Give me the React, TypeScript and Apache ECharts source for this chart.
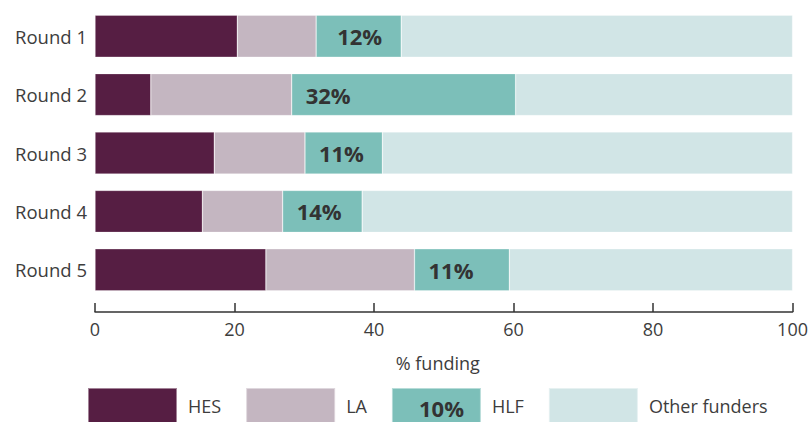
import React, { useEffect, useRef } from "react";
import * as echarts from "echarts";

const categories = ["Round 1", "Round 2", "Round 3", "Round 4", "Round 5"];
const hes = [20.4, 8.0, 17.1, 15.4, 24.5];
const la = [11.3, 20.2, 13.0, 11.5, 21.3];
const hlf = [12.2, 32.1, 11.1, 11.4, 13.6];
const other = [56.1, 39.7, 58.8, 61.7, 40.6];
const hlfLabels = ["12%", "32%", "11%", "14%", "11%"];
const xTicks = [0, 20, 40, 60, 80, 100];
const legendNote = "10%";

const FONT = "'Open Sans', 'Noto Sans', sans-serif";
const TEXT = "#3d3d3d";
const COLORS = ["#561e43", "#c4b6c1", "#7cbfb9", "#d1e5e6"];

export default function App() {
  const ref = useRef<HTMLDivElement>(null);
  useEffect(() => {
    if (!ref.current) return;
    const chart = echarts.init(ref.current, null, { renderer: "svg" });
    const barBase = {
      type: "bar",
      stack: "total",
      barWidth: 42,
      itemStyle: { borderColor: "rgba(255,255,255,0.45)", borderWidth: 0.6 },
      emphasis: { disabled: true },
    };
    chart.setOption({
      animation: false,
      textStyle: { fontFamily: FONT },
      grid: { left: 95, right: 18, top: 7, bottom: 123, containLabel: false },
      xAxis: {
        type: "value",
        min: xTicks[0],
        max: xTicks[xTicks.length - 1],
        interval: 20,
        offset: 13,
        name: "% funding",
        nameLocation: "middle",
        nameGap: 42,
        nameTextStyle: { fontSize: 18, color: TEXT, fontFamily: FONT, padding: [0, 12, 0, 0] },
        axisLine: { show: true, lineStyle: { color: "#333", width: 1.5 } },
        axisTick: { show: true, inside: true, length: 9, lineStyle: { color: "#333", width: 1.5 } },
        axisLabel: { fontSize: 18, color: TEXT, fontFamily: FONT, margin: 8 },
        splitLine: { show: false },
      },
      yAxis: {
        type: "category",
        data: categories,
        inverse: true,
        axisLine: { show: false },
        axisTick: { show: false },
        axisLabel: { fontSize: 18.5, color: TEXT, fontFamily: FONT, margin: 8 },
      },
      legend: {
        left: 87,
        top: 387,
        padding: 0,
        icon: "rect",
        itemWidth: 89,
        itemHeight: 36,
        itemGap: 24,
        textStyle: { fontSize: 18, color: TEXT, fontFamily: FONT, padding: [18, 0, 0, 6] },
        selectedMode: false,
        data: ["HES", "LA", "HLF", "Other funders"],
      },
      graphic: [
        {
          type: "text",
          left: 419,
          top: 397,
          z: 100,
          silent: true,
          style: { text: legendNote, font: `bold 22px ${FONT}`, fill: "#333" },
        },
      ],
      series: [
        { ...barBase, name: "HES", data: hes, itemStyle: { ...barBase.itemStyle, color: COLORS[0] } },
        { ...barBase, name: "LA", data: la, itemStyle: { ...barBase.itemStyle, color: COLORS[1] } },
        {
          ...barBase,
          name: "HLF",
          data: hlf.map((v, i) => ({
            value: v,
            label: { distance: i === 0 ? 21 : 14 },
          })),
          itemStyle: { ...barBase.itemStyle, color: COLORS[2] },
          label: {
            show: true,
            position: "insideLeft",
            distance: 14,
            formatter: (p: any) => hlfLabels[p.dataIndex],
            fontSize: 22,
            fontWeight: "bold",
            color: "#333",
            fontFamily: FONT,
          },
        },
        { ...barBase, name: "Other funders", data: other, itemStyle: { ...barBase.itemStyle, color: COLORS[3] } },
      ],
    });
    return () => chart.dispose();
  }, []);
  return (
    <div
      ref={ref}
      style={{ position: "fixed", left: 0, top: 0, width: 811, height: 422, background: "#fff" }}
    />
  );
}
